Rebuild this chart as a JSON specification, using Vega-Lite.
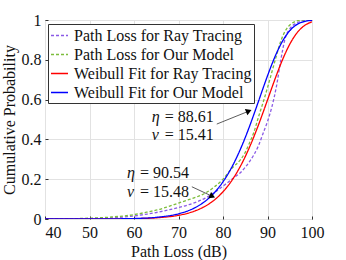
{
  "$schema": "https://vega.github.io/schema/vega-lite/v6.json",
  "width": 267,
  "height": 199,
  "autosize": {"type": "none"},
  "padding": {"left": 45, "top": 20, "right": 34, "bottom": 41},
  "config": {
    "font": "Liberation Serif",
    "view": {"stroke": "#333333", "strokeWidth": 1},
    "axis": {
      "labelFont": "Liberation Serif",
      "labelFontSize": 16,
      "labelColor": "#111111",
      "labelOverlap": false,
      "labelFlush": false,
      "titleFont": "Liberation Serif",
      "titleFontSize": 16,
      "titleFontWeight": "normal",
      "titleColor": "#111111",
      "gridColor": "#e2e2e2",
      "domainColor": "#333333",
      "tickColor": "#333333"
    }
  },
  "datasets": {
    "curves": [
      {"s": "Path Loss for Ray Tracing", "x": 40, "y": 0},
      {"s": "Path Loss for Ray Tracing", "x": 45, "y": 0.0005},
      {"s": "Path Loss for Ray Tracing", "x": 50, "y": 0.002},
      {"s": "Path Loss for Ray Tracing", "x": 55, "y": 0.006},
      {"s": "Path Loss for Ray Tracing", "x": 60, "y": 0.015},
      {"s": "Path Loss for Ray Tracing", "x": 63, "y": 0.025},
      {"s": "Path Loss for Ray Tracing", "x": 66, "y": 0.037},
      {"s": "Path Loss for Ray Tracing", "x": 68, "y": 0.047},
      {"s": "Path Loss for Ray Tracing", "x": 70, "y": 0.058},
      {"s": "Path Loss for Ray Tracing", "x": 72, "y": 0.07},
      {"s": "Path Loss for Ray Tracing", "x": 74, "y": 0.085},
      {"s": "Path Loss for Ray Tracing", "x": 76, "y": 0.105},
      {"s": "Path Loss for Ray Tracing", "x": 78, "y": 0.132},
      {"s": "Path Loss for Ray Tracing", "x": 80, "y": 0.165},
      {"s": "Path Loss for Ray Tracing", "x": 82, "y": 0.2},
      {"s": "Path Loss for Ray Tracing", "x": 84, "y": 0.235},
      {"s": "Path Loss for Ray Tracing", "x": 85, "y": 0.26},
      {"s": "Path Loss for Ray Tracing", "x": 86, "y": 0.29},
      {"s": "Path Loss for Ray Tracing", "x": 87, "y": 0.325},
      {"s": "Path Loss for Ray Tracing", "x": 88, "y": 0.37},
      {"s": "Path Loss for Ray Tracing", "x": 89, "y": 0.43},
      {"s": "Path Loss for Ray Tracing", "x": 90, "y": 0.49},
      {"s": "Path Loss for Ray Tracing", "x": 91, "y": 0.565},
      {"s": "Path Loss for Ray Tracing", "x": 92, "y": 0.665},
      {"s": "Path Loss for Ray Tracing", "x": 93, "y": 0.8},
      {"s": "Path Loss for Ray Tracing", "x": 94, "y": 0.91},
      {"s": "Path Loss for Ray Tracing", "x": 95, "y": 0.955},
      {"s": "Path Loss for Ray Tracing", "x": 96, "y": 0.978},
      {"s": "Path Loss for Ray Tracing", "x": 97, "y": 0.99},
      {"s": "Path Loss for Ray Tracing", "x": 98, "y": 0.997},
      {"s": "Path Loss for Ray Tracing", "x": 99, "y": 1},
      {"s": "Path Loss for Ray Tracing", "x": 100, "y": 1},
      {"s": "Path Loss for Our Model", "x": 40, "y": 0},
      {"s": "Path Loss for Our Model", "x": 45, "y": 0.001},
      {"s": "Path Loss for Our Model", "x": 50, "y": 0.004},
      {"s": "Path Loss for Our Model", "x": 55, "y": 0.01},
      {"s": "Path Loss for Our Model", "x": 60, "y": 0.022},
      {"s": "Path Loss for Our Model", "x": 63, "y": 0.035},
      {"s": "Path Loss for Our Model", "x": 66, "y": 0.05},
      {"s": "Path Loss for Our Model", "x": 68, "y": 0.065},
      {"s": "Path Loss for Our Model", "x": 70, "y": 0.08},
      {"s": "Path Loss for Our Model", "x": 72, "y": 0.095},
      {"s": "Path Loss for Our Model", "x": 74, "y": 0.11},
      {"s": "Path Loss for Our Model", "x": 76, "y": 0.13},
      {"s": "Path Loss for Our Model", "x": 78, "y": 0.16},
      {"s": "Path Loss for Our Model", "x": 80, "y": 0.2},
      {"s": "Path Loss for Our Model", "x": 82, "y": 0.255},
      {"s": "Path Loss for Our Model", "x": 84, "y": 0.3},
      {"s": "Path Loss for Our Model", "x": 85, "y": 0.335},
      {"s": "Path Loss for Our Model", "x": 86, "y": 0.385},
      {"s": "Path Loss for Our Model", "x": 87, "y": 0.44},
      {"s": "Path Loss for Our Model", "x": 88, "y": 0.515},
      {"s": "Path Loss for Our Model", "x": 89, "y": 0.585},
      {"s": "Path Loss for Our Model", "x": 90, "y": 0.66},
      {"s": "Path Loss for Our Model", "x": 91, "y": 0.74},
      {"s": "Path Loss for Our Model", "x": 92, "y": 0.82},
      {"s": "Path Loss for Our Model", "x": 93, "y": 0.895},
      {"s": "Path Loss for Our Model", "x": 94, "y": 0.945},
      {"s": "Path Loss for Our Model", "x": 95, "y": 0.975},
      {"s": "Path Loss for Our Model", "x": 96, "y": 0.99},
      {"s": "Path Loss for Our Model", "x": 97, "y": 0.998},
      {"s": "Path Loss for Our Model", "x": 98, "y": 1},
      {"s": "Path Loss for Our Model", "x": 100, "y": 1},
      {"s": "Weibull Fit for Ray Tracing", "x": 40, "y": 0},
      {"s": "Weibull Fit for Ray Tracing", "x": 50, "y": 0.0001},
      {"s": "Weibull Fit for Ray Tracing", "x": 55, "y": 0.00045},
      {"s": "Weibull Fit for Ray Tracing", "x": 60, "y": 0.0017},
      {"s": "Weibull Fit for Ray Tracing", "x": 65, "y": 0.0059},
      {"s": "Weibull Fit for Ray Tracing", "x": 70, "y": 0.0185},
      {"s": "Weibull Fit for Ray Tracing", "x": 72, "y": 0.0284},
      {"s": "Weibull Fit for Ray Tracing", "x": 74, "y": 0.0431},
      {"s": "Weibull Fit for Ray Tracing", "x": 76, "y": 0.0644},
      {"s": "Weibull Fit for Ray Tracing", "x": 78, "y": 0.0947},
      {"s": "Weibull Fit for Ray Tracing", "x": 80, "y": 0.1369},
      {"s": "Weibull Fit for Ray Tracing", "x": 81, "y": 0.1634},
      {"s": "Weibull Fit for Ray Tracing", "x": 82, "y": 0.194},
      {"s": "Weibull Fit for Ray Tracing", "x": 83, "y": 0.2291},
      {"s": "Weibull Fit for Ray Tracing", "x": 84, "y": 0.269},
      {"s": "Weibull Fit for Ray Tracing", "x": 85, "y": 0.3134},
      {"s": "Weibull Fit for Ray Tracing", "x": 86, "y": 0.363},
      {"s": "Weibull Fit for Ray Tracing", "x": 87, "y": 0.4169},
      {"s": "Weibull Fit for Ray Tracing", "x": 88, "y": 0.4746},
      {"s": "Weibull Fit for Ray Tracing", "x": 89, "y": 0.5354},
      {"s": "Weibull Fit for Ray Tracing", "x": 90, "y": 0.5981},
      {"s": "Weibull Fit for Ray Tracing", "x": 91, "y": 0.6609},
      {"s": "Weibull Fit for Ray Tracing", "x": 92, "y": 0.7222},
      {"s": "Weibull Fit for Ray Tracing", "x": 93, "y": 0.78},
      {"s": "Weibull Fit for Ray Tracing", "x": 94, "y": 0.8325},
      {"s": "Weibull Fit for Ray Tracing", "x": 95, "y": 0.8782},
      {"s": "Weibull Fit for Ray Tracing", "x": 96, "y": 0.9159},
      {"s": "Weibull Fit for Ray Tracing", "x": 97, "y": 0.9453},
      {"s": "Weibull Fit for Ray Tracing", "x": 98, "y": 0.9668},
      {"s": "Weibull Fit for Ray Tracing", "x": 99, "y": 0.9814},
      {"s": "Weibull Fit for Ray Tracing", "x": 100, "y": 0.9905},
      {"s": "Weibull Fit for Our Model", "x": 40, "y": 0},
      {"s": "Weibull Fit for Our Model", "x": 50, "y": 0.00015},
      {"s": "Weibull Fit for Our Model", "x": 55, "y": 0.00064},
      {"s": "Weibull Fit for Our Model", "x": 60, "y": 0.0025},
      {"s": "Weibull Fit for Our Model", "x": 65, "y": 0.0084},
      {"s": "Weibull Fit for Our Model", "x": 70, "y": 0.0261},
      {"s": "Weibull Fit for Our Model", "x": 72, "y": 0.04},
      {"s": "Weibull Fit for Our Model", "x": 74, "y": 0.0603},
      {"s": "Weibull Fit for Our Model", "x": 76, "y": 0.0896},
      {"s": "Weibull Fit for Our Model", "x": 78, "y": 0.1307},
      {"s": "Weibull Fit for Our Model", "x": 80, "y": 0.187},
      {"s": "Weibull Fit for Our Model", "x": 81, "y": 0.2216},
      {"s": "Weibull Fit for Our Model", "x": 82, "y": 0.2612},
      {"s": "Weibull Fit for Our Model", "x": 83, "y": 0.3058},
      {"s": "Weibull Fit for Our Model", "x": 84, "y": 0.3553},
      {"s": "Weibull Fit for Our Model", "x": 85, "y": 0.4094},
      {"s": "Weibull Fit for Our Model", "x": 86, "y": 0.4678},
      {"s": "Weibull Fit for Our Model", "x": 87, "y": 0.5295},
      {"s": "Weibull Fit for Our Model", "x": 88, "y": 0.593},
      {"s": "Weibull Fit for Our Model", "x": 89, "y": 0.657},
      {"s": "Weibull Fit for Our Model", "x": 90, "y": 0.7195},
      {"s": "Weibull Fit for Our Model", "x": 91, "y": 0.7784},
      {"s": "Weibull Fit for Our Model", "x": 92, "y": 0.8319},
      {"s": "Weibull Fit for Our Model", "x": 93, "y": 0.8784},
      {"s": "Weibull Fit for Our Model", "x": 94, "y": 0.9166},
      {"s": "Weibull Fit for Our Model", "x": 95, "y": 0.9463},
      {"s": "Weibull Fit for Our Model", "x": 96, "y": 0.9678},
      {"s": "Weibull Fit for Our Model", "x": 97, "y": 0.9822},
      {"s": "Weibull Fit for Our Model", "x": 98, "y": 0.9911},
      {"s": "Weibull Fit for Our Model", "x": 99, "y": 0.996},
      {"s": "Weibull Fit for Our Model", "x": 100, "y": 0.9984}
    ],
    "labels": [
      {"x": 64.0, "y": 0.513, "sym": "η", "val": "= 88.61"},
      {"x": 64.0, "y": 0.422, "sym": "ν", "val": "= 15.41"},
      {"x": 58.4, "y": 0.229, "sym": "η", "val": "= 90.54"},
      {"x": 58.4, "y": 0.137, "sym": "ν", "val": "= 15.48"}
    ],
    "arrows": [
      {"id": "a", "x": 78.6, "y": 0.477, "x2": 85.8, "y2": 0.542},
      {"id": "b", "x": 73.0, "y": 0.162, "x2": 77.6, "y2": 0.114}
    ],
    "heads": [
      {"id": "a", "x": 85.8, "y": 0.542},
      {"id": "b", "x": 77.6, "y": 0.114}
    ]
  },
  "encoding": {
    "x": {
      "field": "x", "type": "quantitative",
      "scale": {"domain": [40, 100], "nice": false, "zero": false},
      "axis": {
        "values": [40, 50, 60, 70, 80, 90, 100],
        "title": "Path Loss (dB)",
        "tickSize": -3, "labelPadding": 8, "titlePadding": 3,
        "grid": true, "domain": false, "labelOverlap": false, "labelFlush": false,
        "labelAlign": {"condition": {"test": "datum.value <= 40", "value": "left"}, "value": "center"}
      }
    },
    "y": {
      "field": "y", "type": "quantitative",
      "scale": {"domain": [0, 1], "nice": false},
      "axis": {
        "values": [0, 0.2, 0.4, 0.6, 0.8, 1],
        "labelExpr": "datum.value == 0 ? '0' : datum.value == 1 ? '1' : format(datum.value, '.1f')",
        "title": "Cumulative Probability",
        "tickSize": -3, "labelPadding": 7, "titlePadding": 4,
        "grid": true, "domain": false, "labelOverlap": false, "labelFlush": false
      }
    }
  },
  "layer": [
    {
      "data": {"name": "curves"},
      "mark": {"type": "line", "interpolate": "monotone", "clip": true},
      "encoding": {
        "color": {
          "field": "s", "type": "nominal",
          "scale": {
            "domain": ["Path Loss for Ray Tracing", "Path Loss for Our Model", "Weibull Fit for Ray Tracing", "Weibull Fit for Our Model"],
            "range": ["#8a5ae6", "#7dbd3c", "#ff0000", "#0000ff"]
          },
          "legend": {
            "orient": "none", "legendX": 3, "legendY": 4, "title": null,
            "strokeColor": "#333333", "fillColor": "white", "padding": 2,
            "rowPadding": 1, "symbolType": "stroke", "symbolSize": 289,
            "labelFont": "Liberation Serif", "labelFontSize": 16, "labelColor": "#111111",
            "labelOffset": 5, "labelLimit": 300
          }
        },
        "strokeDash": {
          "field": "s", "type": "nominal",
          "scale": {
            "domain": ["Path Loss for Ray Tracing", "Path Loss for Our Model", "Weibull Fit for Ray Tracing", "Weibull Fit for Our Model"],
            "range": [[3, 2], [3, 2], [1, 0], [1, 0]]
          },
          "legend": {
            "orient": "none", "legendX": 3, "legendY": 4, "title": null,
            "strokeColor": "#333333", "fillColor": "white", "padding": 2,
            "rowPadding": 1, "symbolType": "stroke", "symbolSize": 289,
            "labelFont": "Liberation Serif", "labelFontSize": 16, "labelColor": "#111111",
            "labelOffset": 5, "labelLimit": 300
          }
        },
        "strokeWidth": {
          "field": "s", "type": "nominal",
          "scale": {
            "domain": ["Path Loss for Ray Tracing", "Path Loss for Our Model", "Weibull Fit for Ray Tracing", "Weibull Fit for Our Model"],
            "range": [1.3, 1.3, 2, 2]
          },
          "legend": {
            "orient": "none", "legendX": 3, "legendY": 4, "title": null,
            "strokeColor": "#333333", "fillColor": "white", "padding": 2,
            "rowPadding": 1, "symbolType": "stroke", "symbolSize": 289,
            "labelFont": "Liberation Serif", "labelFontSize": 16, "labelColor": "#111111",
            "labelOffset": 5, "labelLimit": 300
          }
        }
      }
    },
    {
      "data": {"name": "arrows"},
      "mark": {"type": "rule", "color": "#333333", "strokeWidth": 0.8},
      "encoding": {
        "x2": {"field": "x2"},
        "y2": {"field": "y2"}
      }
    },
    {
      "data": {"name": "heads"},
      "transform": [{"filter": "datum.id === 'a'"}],
      "mark": {"type": "point", "shape": "triangle-right", "filled": true, "color": "#000000", "size": 45, "angle": 338, "opacity": 1}
    },
    {
      "data": {"name": "heads"},
      "transform": [{"filter": "datum.id === 'b'"}],
      "mark": {"type": "point", "shape": "triangle-right", "filled": true, "color": "#000000", "size": 45, "angle": 25, "opacity": 1}
    },
    {
      "data": {"name": "labels"},
      "mark": {"type": "text", "align": "left", "baseline": "middle", "font": "Liberation Serif", "fontSize": 16, "fontStyle": "italic", "color": "#111111"},
      "encoding": {
        "text": {"field": "sym"}
      }
    },
    {
      "data": {"name": "labels"},
      "mark": {"type": "text", "align": "left", "baseline": "middle", "dx": 13, "font": "Liberation Serif", "fontSize": 16, "color": "#111111"},
      "encoding": {
        "text": {"field": "val"}
      }
    }
  ]
}
